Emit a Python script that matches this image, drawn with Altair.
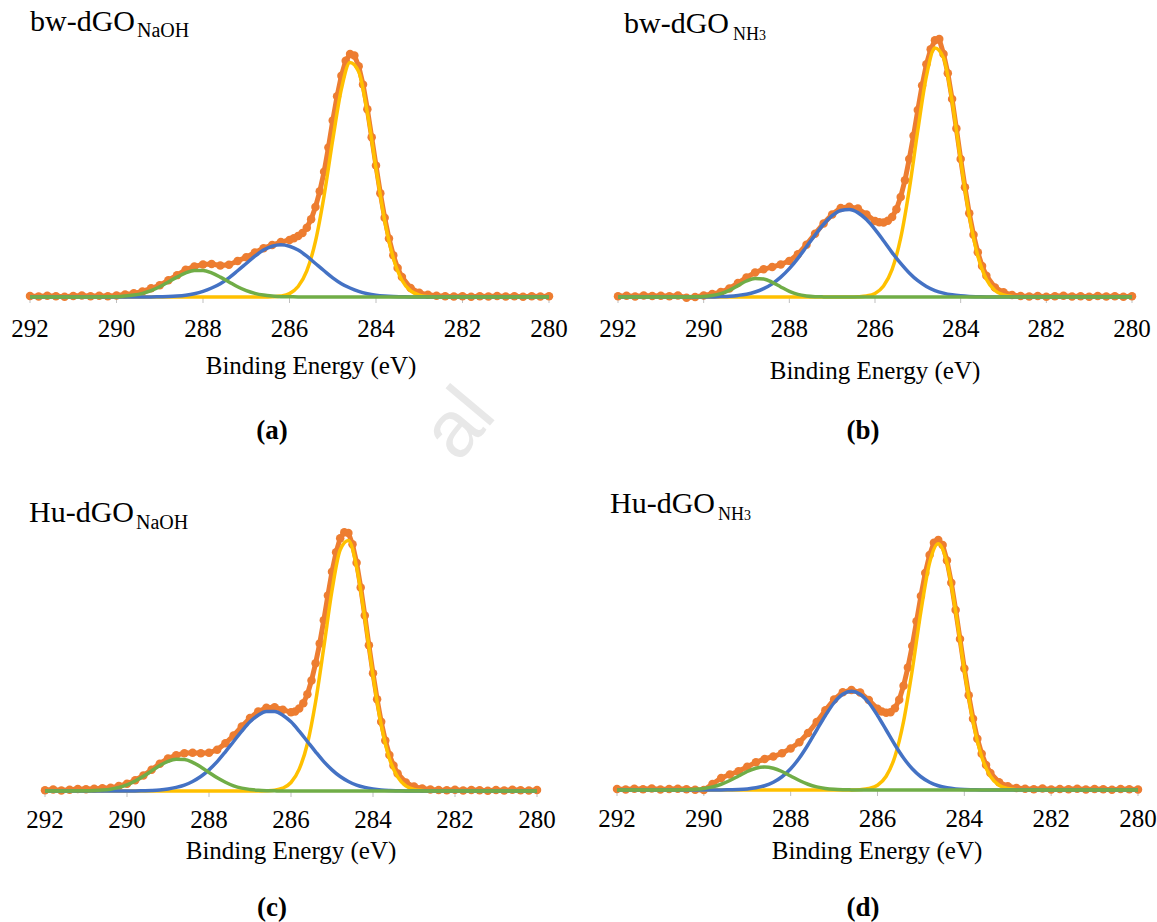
import altair as alt
import pandas as pd

# ---------------- data ----------------
# energies of the measured points (eV)
data_energy = [
    292.0, 291.8, 291.6, 291.4, 291.2, 291.0, 290.8, 290.6, 290.4, 290.2,
    290.0, 289.8, 289.6, 289.4, 289.2, 289.0, 288.8, 288.6, 288.4, 288.2,
    288.0, 287.8, 287.6, 287.4, 287.2, 287.0, 286.8, 286.6, 286.4, 286.2,
    286.0,
    285.9, 285.8, 285.7, 285.6, 285.5, 285.4, 285.3, 285.2, 285.1, 285.0,
    284.9, 284.8, 284.7, 284.6, 284.5, 284.4, 284.3, 284.2, 284.1, 284.0,
    283.9, 283.8, 283.7, 283.6, 283.5, 283.4,
    283.2, 283.0, 282.8, 282.6, 282.4, 282.2, 282.0, 281.8, 281.6, 281.4,
    281.2, 281.0, 280.8, 280.6, 280.4, 280.2, 280.0,
]

# energies of the fitted component curves (eV)
comp_energy = [
    292.0, 291.0, 290.8, 290.6, 290.4, 290.2, 290.0, 289.8, 289.6, 289.4,
    289.2, 289.0, 288.8, 288.6, 288.4, 288.2, 288.0, 287.8, 287.6, 287.4,
    287.2, 287.0, 286.8, 286.6, 286.4, 286.2, 286.0, 285.8, 285.6, 285.4,
    285.2, 285.0, 284.8, 284.6, 284.4, 284.2, 284.0, 283.8, 283.6, 283.4,
    283.2, 283.0, 282.8, 282.6, 282.4, 282.2, 280.0,
]

# (a) bw-dGO NaOH
a_data = [
    0.4, 0.2, 0.5, 0.3, 0.1, 0.4, 0.6, 0.3, 0.5, 0.3,
    0.6, 1.0, 1.5, 2.3, 3.6, 4.8, 6.9, 9.0, 11.2, 12.6,
    13.4, 13.6, 13.0, 13.3, 14.8, 16.4, 18.3, 20.1, 21.4, 22.6,
    23.5,
    24.2, 25.1, 26.3, 28.5, 32.0, 37.0, 43.5, 51.5, 61.5, 72.6,
    82.6, 91.1, 97.2, 100.0, 99.4, 95.0, 87.4, 77.3, 65.7, 54.1,
    42.7, 32.6, 24.1, 17.2, 11.9, 8.2,
    3.7, 1.8, 0.9, 0.5, 0.3, 0.2, 0.3, 0.1, 0.3, 0.2, 0.4, 0.2, 0.3, 0.1, 0.3, 0.2, 0.3,
]
a_yellow = [0, 0, 0, 0, 0, 0, 0, 0, 0, 0, 0, 0, 0, 0, 0, 0, 0, 0, 0, 0, 0, 0, 0, 0,
            0.1, 0.4, 1.4, 4.3, 10.7, 22.9, 41.7, 64.7, 85.6, 96.5,
            92.7, 75.9, 53.0, 31.5, 16.0, 6.9, 2.5, 0.8, 0.2, 0, 0, 0, 0]
a_blue = [0, 0, 0, 0, 0, 0, 0, 0, 0, 0, 0,
          0.1, 0.2, 0.4, 0.75, 1.35, 2.3, 3.7, 5.5, 7.9,
          10.8, 13.8, 16.8, 19.3, 20.9, 21.5, 20.9, 19.3, 16.8, 13.8,
          10.8, 7.9, 5.5, 3.7, 2.3, 1.35, 0.75, 0.4, 0.2, 0.1,
          0, 0, 0, 0, 0, 0, 0]
a_green = [0, 0, 0, 0, 0,
           0.1, 0.15, 0.4, 0.8, 1.5, 2.6, 4.2, 6.2, 8.2, 9.9,
           10.9, 10.9, 9.9, 8.2, 6.2, 4.2, 2.6, 1.5, 0.8, 0.4, 0.15, 0.1,
           0, 0, 0, 0, 0, 0, 0, 0, 0, 0, 0, 0, 0, 0, 0, 0, 0, 0, 0, 0]

# (b) bw-dGO NH3
b_data = [
    0.3, 0.5, 0.2, 0.6, 0.4, 0.5, 0.3, 0.6, -0.3, 0.0,
    0.6, 1.2, 1.9, 3.3, 5.4, 7.6, 9.5, 10.8, 11.6, 12.6,
    14.0, 16.6, 20.3, 24.5, 28.5, 32.0, 34.5, 35.0, 34.3, 32.0,
    29.5,
    29.0, 28.9, 29.6, 31.0, 34.0, 38.8, 45.3, 53.5, 62.5, 72.5,
    82.0, 90.2, 96.0, 99.5, 100.0, 94.2, 86.7, 76.7, 65.3, 53.5,
    42.5, 32.5, 24.1, 17.3, 12.0, 8.2,
    3.7, 1.8, 0.8, 0.4, 0.2, 0.4, 0.1, 0.3, 0.5, 0.2, 0.3, 0.1, 0.4, 0.2, 0.3, 0.1, 0.3,
]
b_yellow = [0, 0, 0, 0, 0, 0, 0, 0, 0, 0, 0, 0, 0, 0, 0, 0, 0, 0, 0, 0, 0, 0, 0, 0,
            0.1, 0.4, 1.4, 4.3, 10.7, 22.9, 41.7, 64.7, 85.6, 96.5,
            92.7, 75.9, 53.0, 31.5, 16.0, 6.9, 2.5, 0.8, 0.2, 0, 0, 0, 0]
b_blue = [0, 0, 0, 0, 0, 0, 0, 0,
          0.16, 0.32, 0.62, 1.1, 1.95, 3.25, 5.1, 7.7, 11.0, 15.0, 19.5, 24.0,
          28.2, 31.5, 33.5, 33.9, 32.7, 30.0, 26.2, 21.8, 17.2, 13.0,
          9.3, 6.3, 4.1, 2.5, 1.5, 0.84, 0.45, 0.22, 0.1,
          0, 0, 0, 0, 0, 0, 0, 0]
b_green = [0, 0, 0, 0, 0,
           0.05, 0.19, 0.55, 1.3, 2.6, 4.4, 6.2, 7.2, 7.0, 5.7, 3.9, 2.2, 1.0, 0.4, 0.13, 0.04,
           0, 0, 0, 0, 0, 0, 0, 0, 0, 0, 0, 0, 0, 0, 0, 0, 0, 0, 0, 0, 0, 0, 0, 0, 0, 0]

# (c) Hu-dGO NaOH
c_data = [
    0.3, 0.6, 0.2, 0.5, 0.8, 0.7, 0.9, 1.1, 1.3, 1.9,
    2.8, 4.2, 6.0, 8.2, 10.6, 12.6, 13.9, 14.6, 14.8, 14.6,
    14.8, 16.0, 18.5, 21.5, 25.0, 28.3, 30.8, 32.3, 32.5, 31.5,
    30.5,
    30.8, 32.0, 34.0, 37.5, 42.8, 49.5, 57.2, 66.2, 75.8, 85.0,
    92.5, 98.0, 100.3, 100.0, 95.6, 88.5, 78.9, 68.0, 56.5, 45.6,
    35.6, 26.8, 19.6, 14.0, 9.9, 6.8,
    3.3, 1.7, 1.0, 0.6, 0.4, 0.3, 0.5, 0.2, 0.4, 0.3, 0.1, 0.4, 0.2, 0.5, 0.3, 0.2, 0.4,
]
c_yellow = [0, 0, 0, 0, 0, 0, 0, 0, 0, 0, 0, 0, 0, 0, 0, 0, 0, 0, 0, 0, 0, 0, 0,
            0.1, 0.3, 1.1, 3.3, 8.5, 18.3, 34.6, 55.7, 77.7, 93.5, 97.1,
            86.9, 67.1, 44.7, 25.7, 12.6, 5.5, 2.0, 0.6, 0.2, 0, 0, 0, 0]
c_blue = [0, 0, 0, 0, 0, 0, 0, 0,
          0.1, 0.22, 0.42, 0.8, 1.4, 2.3, 3.7, 5.6, 8.2, 11.4, 15.2, 19.2,
          23.2, 26.8, 29.4, 30.8, 30.8, 29.4, 26.8, 23.2, 19.2, 15.2,
          11.4, 8.2, 5.6, 3.7, 2.3, 1.4, 0.8, 0.42, 0.22, 0.1,
          0, 0, 0, 0, 0, 0, 0]
c_green = [0,
           0.06, 0.16, 0.35, 0.7, 1.4, 2.4, 3.9, 5.7, 7.8, 9.9, 11.5, 12.3,
           12.2, 11.1, 9.3, 7.2, 5.1, 3.4, 2.0, 1.1, 0.6, 0.28, 0.12, 0.05,
           0, 0, 0, 0, 0, 0, 0, 0, 0, 0, 0, 0, 0, 0, 0, 0, 0, 0, 0, 0, 0, 0]

# (d) Hu-dGO NH3
d_data = [
    0.4, 0.2, 0.5, 0.3, 0.6, 0.2, 0.4, 0.5, 0.3, 0.1,
    0.0, 2.4, 4.8, 6.2, 7.5, 9.3, 11.1, 12.4, 13.4, 14.7,
    16.6, 19.1, 22.8, 27.2, 31.9, 36.2, 39.1, 40.0, 39.0, 36.0,
    32.5,
    31.4, 30.9, 31.1, 32.7, 36.1, 41.7, 49.0, 57.6, 67.5, 77.6,
    86.8, 94.0, 98.9, 100.0, 98.0, 91.8, 82.9, 72.0, 60.4, 48.6,
    37.9, 28.5, 20.5, 14.5, 10.0, 6.8,
    3.1, 1.5, 0.8, 0.5, 0.3, 0.6, 0.2, 0.4, 0.3, 0.5, 0.2, 0.4, 0.3, 0.1, 0.4, 0.3, 0.2,
]
d_yellow = [0, 0, 0, 0, 0, 0, 0, 0, 0, 0, 0, 0, 0, 0, 0, 0, 0, 0, 0, 0, 0, 0, 0, 0,
            0.15, 0.6, 1.9, 5.5, 13.3, 27.4, 47.9, 71.5, 90.9, 98.5,
            90.9, 71.5, 47.9, 27.4, 13.3, 5.5, 1.9, 0.6, 0.15, 0, 0, 0, 0]
d_blue = [0, 0, 0, 0, 0, 0, 0, 0, 0,
          0.09, 0.2, 0.44, 0.9, 1.7, 3.1, 5.3, 8.5, 12.8, 18.1,
          24.0, 29.8, 34.9, 38.3, 39.5, 38.3, 34.9, 29.8, 24.0, 18.1,
          12.8, 8.5, 5.3, 3.1, 1.7, 0.9, 0.44, 0.2, 0.09,
          0, 0, 0, 0, 0, 0, 0, 0, 0]
d_green = [0, 0, 0,
           0.04, 0.1, 0.26, 0.6, 1.24, 2.3, 3.8, 5.6, 7.4, 8.7, 9.2, 8.7, 7.4,
           5.6, 3.8, 2.3, 1.24, 0.6, 0.26, 0.1, 0.04,
           0, 0, 0, 0, 0, 0, 0, 0, 0, 0, 0, 0, 0, 0, 0, 0, 0, 0, 0, 0, 0, 0, 0]

tick_values = [292, 290, 288, 286, 284, 282, 280]
axis_title = "Binding Energy (eV)"

# ---------------- styling / layout ----------------
W, H = 1157, 922
ORANGE, YELLOW, BLUE, GREEN = "#ED7D31", "#FFC000", "#4472C4", "#70AD47"
SERIF = "Liberation Serif"

panels = [
    dict(data=a_data, yellow=a_yellow, blue=a_blue, green=a_green,
         x292=30, x280=549, base=297, top=54, lab=40, tit=374, tx=311),
    dict(data=b_data, yellow=b_yellow, blue=b_blue, green=b_green,
         x292=618, x280=1132, base=297, top=39, lab=40, tit=379, tx=875),
    dict(data=c_data, yellow=c_yellow, blue=c_blue, green=c_green,
         x292=45, x280=537, base=791, top=533, lab=37, tit=859, tx=291),
    dict(data=d_data, yellow=d_yellow, blue=d_blue, green=d_green,
         x292=617, x280=1138, base=790, top=540, lab=37, tit=859, tx=877),
]


def make_panel(p):
    xs = alt.Scale(domain=[280, 292], range=[p["x280"], p["x292"]], nice=False, zero=False)
    ys = alt.Scale(domain=[0, 100], range=[p["base"], p["top"]], nice=False, zero=False)
    ticks_df = pd.DataFrame({"tick": tick_values})
    dom_df = pd.DataFrame({"lo": [tick_values[0]], "hi": [tick_values[-1]]})

    # axis built from the scale: domain line, tick marks, tick labels
    domain = alt.Chart(dom_df).mark_rule(color="#D9D9D9", strokeWidth=1).encode(
        x=alt.X("lo:Q", scale=xs, axis=None), x2="hi:Q", y=alt.value(p["base"]))
    ticks = alt.Chart(ticks_df).mark_rule(color="#BFBFBF", strokeWidth=1).encode(
        x=alt.X("tick:Q", scale=xs, axis=None),
        y=alt.value(p["base"]), y2=alt.value(p["base"] + 6))
    tlabels = alt.Chart(ticks_df).mark_text(
        font=SERIF, fontSize=25, color="black", align="center", baseline="alphabetic"
    ).encode(x=alt.X("tick:Q", scale=xs, axis=None), y=alt.value(p["base"] + p["lab"]),
             text=alt.Text("tick:Q", format="d"))

    df = pd.DataFrame({"energy": data_energy, "intensity": p["data"]})
    x_no = alt.X("energy:Q", scale=xs, axis=None)
    y_no = alt.Y("intensity:Q", scale=ys, axis=None)
    line = alt.Chart(df).mark_line(color=ORANGE, strokeWidth=5).encode(x=x_no, y=y_no)
    pts = alt.Chart(df).mark_circle(color=ORANGE, size=72, opacity=1).encode(x=x_no, y=y_no)
    layers = [domain, ticks, tlabels, line, pts]
    for vals, col in ((p["yellow"], YELLOW), (p["blue"], BLUE), (p["green"], GREEN)):
        cdf = pd.DataFrame({"energy": comp_energy, "intensity": vals})
        layers.append(
            alt.Chart(cdf).mark_line(color=col, strokeWidth=3.5, interpolate="monotone")
            .encode(x=x_no, y=y_no)
        )
    title = alt.Chart(pd.DataFrame({"t": [axis_title]})).mark_text(
        text=axis_title, font=SERIF, fontSize=25, color="black", align="center",
        baseline="alphabetic",
    ).encode(x=alt.value(p["tx"]), y=alt.value(p["tit"]))
    layers.append(title)
    return alt.layer(*layers)


def label(text, x, y, size, weight="normal", align="left", color="black", font=SERIF, angle=0):
    return alt.Chart(pd.DataFrame({"t": [text]})).mark_text(
        text=text, font=font, fontSize=size, fontWeight=weight, align=align,
        baseline="alphabetic", color=color, angle=angle,
    ).encode(x=alt.value(x), y=alt.value(y))


texts = [
    # faint watermark fragment
    label("al", 478, 440, 80, align="center", color="#E8E8E8", font="Liberation Sans", angle=310),
    # sample names
    label("bw-dGO", 30, 31, 30), label("NaOH", 137, 37, 20),
    label("bw-dGO", 624, 33, 30), label("NH", 733, 40, 18), label("3", 759, 40, 14),
    label("Hu-dGO", 29, 522, 30), label("NaOH", 136, 529, 20),
    label("Hu-dGO", 610, 513, 30), label("NH", 718, 520, 18), label("3", 744, 520, 14),
    # panel letters
    label("(a)", 272, 439, 27, weight="bold", align="center"),
    label("(b)", 863, 439, 27, weight="bold", align="center"),
    label("(c)", 272, 916, 27, weight="bold", align="center"),
    label("(d)", 863, 916, 27, weight="bold", align="center"),
]

chart = (
    alt.layer(*[make_panel(p) for p in panels], *texts)
    .resolve_scale(x="independent", y="independent")
    .properties(width=W, height=H, padding=0, autosize=alt.AutoSizeParams(type="none"),
                background="white")
    .configure_view(stroke=None)
)

chart.save("out.html", embed_options={"renderer": "svg", "actions": False})
